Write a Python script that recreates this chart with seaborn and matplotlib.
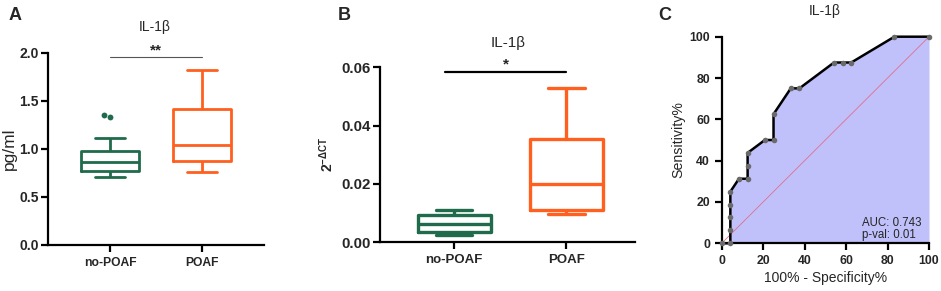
import numpy as np
import pandas as pd
import matplotlib
matplotlib.use("Agg")
import matplotlib.pyplot as plt
import seaborn as sns

# ---------------- data ----------------
groups = ["no-POAF", "POAF"]
# Panel A (pg/ml) (min, quartiles, max, outliers)
a_nopoaf = [0.71, 0.77, 0.77, 0.77, 0.86, 0.86, 0.86, 0.86, 0.98, 0.98, 1.11, 1.33, 1.35]
a_poaf = [0.76, 0.88, 1.04, 1.42, 1.82]
# Panel B (2^-ΔCT)
b_nopoaf = [0.0024, 0.0034, 0.0063, 0.0094, 0.0111]
b_poaf = [0.0098, 0.0111, 0.0201, 0.0353, 0.0529]
# Panel C ROC
roc_fpr = [0, 4.17, 4.17, 4.17, 4.17, 4.17, 8.33, 12.5, 12.5, 12.5, 20.83, 25, 25,
           33.33, 37.5, 54.17, 58.33, 62.5, 83.33, 100]
roc_tpr = [0, 0, 6.25, 12.5, 18.75, 25, 31.25, 31.25, 37.5, 43.75, 50, 50, 62.5,
           75, 75, 87.5, 87.5, 87.5, 100, 100]
auc_text = "AUC: 0.743"
p_text = "p-val: 0.01"

green = "#1f6b4b"
orange = "#ff5f1f"
palette = {"no-POAF": green, "POAF": orange}

sns.set_theme(style="ticks")
plt.rcParams["font.family"] = ["Liberation Sans", "DejaVu Sans"]
plt.rcParams["mathtext.fontset"] = "custom"
plt.rcParams["mathtext.rm"] = "Liberation Sans"
plt.rcParams["mathtext.bf"] = "Liberation Sans:bold"
plt.rcParams["mathtext.it"] = "Liberation Sans:italic"

W, H = 941, 291
fig = plt.figure(figsize=(W / 100, H / 100), dpi=100)


def px_ax(l, t, r, b):
    return fig.add_axes([l / W, 1 - b / H, (r - l) / W, (b - t) / H])


def ftext(x, y, s, **kw):
    fig.text(x / W, 1 - y / H, s, **kw)


def style_axes(ax, lw=1.6):
    for sp in ["top", "right"]:
        ax.spines[sp].set_visible(False)
    for sp in ["left", "bottom"]:
        ax.spines[sp].set_linewidth(lw)
        ax.spines[sp].set_color("black")
    ax.tick_params(width=lw, length=5, color="black", direction="out")


def long_df(a, b):
    return pd.DataFrame({"group": [groups[0]] * len(a) + [groups[1]] * len(b),
                         "value": list(a) + list(b)})

# ---------------- Panel A ----------------
axA = px_ax(48, 53, 264, 245)
dfA = long_df(a_nopoaf, a_poaf)
sns.boxplot(data=dfA, x="group", y="value", hue="group", palette=palette, fill=False,
            width=0.64, linewidth=2.0, whis=1.5, legend=False, ax=axA,
            showfliers=False)
# outliers (Tukey) shown as a small swarm
def tukey_out(vals):
    q1, q3 = np.percentile(vals, [25, 75])
    iqr = q3 - q1
    return [v for v in vals if v > q3 + 1.5 * iqr or v < q1 - 1.5 * iqr]
out_df = pd.DataFrame({"group": [groups[0]] * len(tukey_out(a_nopoaf)),
                       "value": tukey_out(a_nopoaf)})
sns.swarmplot(data=out_df, x="group", y="value", color=green, size=4.2,
              order=groups, ax=axA)
axA.set_xlim(-0.674, 1.674)
axA.set_ylim(0, 2.0)
axA.set_yticks([0, 0.5, 1.0, 1.5, 2.0])
axA.set_yticklabels(["0.0", "0.5", "1.0", "1.5", "2.0"])
style_axes(axA, 1.6)
axA.tick_params(axis="y", pad=1.5)
axA.set_xlabel("")
axA.set_ylabel("pg/ml", fontsize=12.5, labelpad=2)
for lab in axA.get_yticklabels():
    lab.set_fontweight("bold")
    lab.set_fontsize(10)
for lab in axA.get_xticklabels():
    lab.set_fontweight("bold")
    lab.set_fontsize(8.7)
sigA_y = 1.955
axA.plot([0, 1], [sigA_y, sigA_y], color="#555555", lw=0.8, clip_on=False)
ftext(156, 50, "**", ha="center", va="center", fontsize=11, fontweight="bold")
ftext(155, 27, "IL-1β", ha="center", va="center", fontsize=10)
ftext(15, 15, "A", ha="center", va="center", fontsize=13, fontweight="bold")

# ---------------- Panel B ----------------
axB = px_ax(380, 67.3, 635, 242.3)
dfB = long_df(b_nopoaf, b_poaf)
sns.boxplot(data=dfB, x="group", y="value", hue="group", palette=palette, fill=False,
            width=0.65, linewidth=2.4, whis=1.5, legend=False, ax=axB)
axB.set_xlim(-0.66, 1.61)
axB.set_ylim(0, 0.06)
axB.set_yticks([0, 0.02, 0.04, 0.06])
axB.set_yticklabels(["0.00", "0.02", "0.04", "0.06"])
style_axes(axB, 1.6)
axB.tick_params(axis="y", pad=1.5)
axB.set_xlabel("")
axB.set_ylabel(r"$\mathbf{2^{-\Delta CT}}$", fontsize=10, labelpad=4)
for lab in axB.get_yticklabels():
    lab.set_fontweight("bold")
    lab.set_fontsize(10.8)
for lab in axB.get_xticklabels():
    lab.set_fontweight("bold")
    lab.set_fontsize(9.5)
sigB_y = 0.0585
axB.plot([-0.08, 1.0], [sigB_y, sigB_y], color="black", lw=1.6, clip_on=False)
ftext(506, 64, "*", ha="center", va="center", fontsize=11, fontweight="bold")
ftext(508, 43, "IL-1β", ha="center", va="center", fontsize=11)
ftext(344, 15, "B", ha="center", va="center", fontsize=13, fontweight="bold")

# ---------------- Panel C ----------------
axC = px_ax(721.7, 36.7, 929, 243.3)
rocdf = pd.DataFrame({"fpr": roc_fpr, "tpr": roc_tpr})
axC.fill_between(rocdf["fpr"], rocdf["tpr"], 0, color="#c0c0fb", lw=0, zorder=1)
axC.plot([0, 100], [0, 100], color="#e0708a", lw=0.6, zorder=2)
sns.lineplot(data=rocdf, x="fpr", y="tpr", sort=False, estimator=None, color="black",
             lw=1.8, ax=axC, zorder=3, clip_on=False)
sns.scatterplot(data=rocdf, x="fpr", y="tpr", color="#6a6a6a", s=16, linewidth=0,
                ax=axC, zorder=4, clip_on=False)
axC.set_xlim(0, 100)
axC.set_ylim(0, 100)
axC.set_xticks([0, 20, 40, 60, 80, 100])
axC.set_yticks([0, 20, 40, 60, 80, 100])
style_axes(axC, 1.6)
axC.set_xlabel("100% - Specificity%", fontsize=10, labelpad=3)
axC.set_ylabel("Sensitivity%", fontsize=10.2, labelpad=3)
for lab in axC.get_yticklabels() + axC.get_xticklabels():
    lab.set_fontweight("bold")
    lab.set_fontsize(8.8)
axC.text(67.5, 8.6, auc_text, fontsize=8.3, ha="left", va="baseline")
axC.text(67.5, 2.6, p_text, fontsize=8.3, ha="left", va="baseline")
ftext(825, 11, "IL-1β", ha="center", va="center", fontsize=10)
ftext(665, 16, "C", ha="center", va="center", fontsize=13, fontweight="bold")

fig.savefig("out.png", dpi=100)
